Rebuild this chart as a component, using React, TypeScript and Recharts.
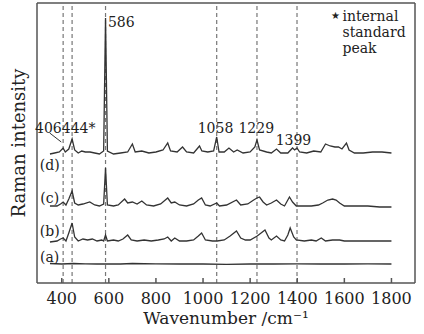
import React from "react";
import { LineChart, Line, XAxis, YAxis, ReferenceLine, ReferenceDot } from "recharts";

// wavenumbers (cm-1) and intensities (offset, arbitrary units) for each spectrum
const waveA = [350, 400, 450, 500, 550, 600, 650, 700, 800, 900, 1000, 1100, 1200, 1300, 1400, 1500, 1600, 1700, 1800];
const specA = [19.5, 19, 19.5, 19.2, 19, 19, 19, 19.5, 19.2, 19, 19, 18.6, 19, 19, 19.2, 19, 19, 19.2, 19];

const waveB = [350, 380, 395, 406, 418, 430, 444, 455, 470, 490, 510, 530, 550, 570, 578, 586, 594, 620, 640, 660, 680, 695, 720, 750, 780, 810, 835, 850, 865, 880, 900, 930, 960, 980, 994, 1010, 1040, 1060, 1090, 1115, 1142, 1160, 1180, 1200, 1230, 1263, 1280, 1290, 1312, 1330, 1346, 1360, 1370, 1385, 1396, 1430, 1460, 1480, 1502, 1520, 1550, 1580, 1600, 1650, 1700, 1750, 1800];
const specB = [41, 42, 44, 45, 42, 50, 60, 46, 42, 44, 43, 44, 42, 43, 42, 48, 42, 43, 42, 44, 48, 43, 42, 43, 42, 43, 44, 46, 42, 45, 42, 42, 43, 47, 50, 43, 42, 42, 43, 47, 52, 45, 43, 43, 47, 53, 45, 43, 47, 43, 42, 48, 55, 46, 43, 42, 43, 42, 45, 42, 43, 43, 42, 42, 42, 42, 42];

const waveC = [350, 380, 395, 406, 418, 430, 444, 455, 470, 490, 519, 540, 560, 578, 586, 594, 620, 640, 667, 680, 700, 720, 740, 760, 790, 820, 850, 865, 880, 900, 930, 960, 980, 994, 1010, 1030, 1058, 1070, 1100, 1142, 1160, 1190, 1215, 1229, 1240, 1255, 1270, 1290, 1312, 1330, 1346, 1367, 1380, 1396, 1430, 1460, 1490, 1508, 1530, 1550, 1565, 1580, 1600, 1650, 1700, 1750, 1800];
const specC = [77, 77, 79, 81, 78, 84, 92, 80, 78, 79, 81, 78, 77, 79, 115, 78, 77, 78, 84, 80, 81, 79, 82, 78, 77, 79, 85, 80, 81, 78, 77, 79, 83, 85, 78, 77, 80, 77, 78, 83, 78, 79, 83, 85, 86, 81, 78, 80, 83, 79, 77, 86, 81, 77, 77, 77, 78, 80, 83, 84, 83, 80, 77, 77, 77, 76, 76];

const waveD = [350, 370, 390, 406, 415, 430, 444, 455, 470, 485, 500, 520, 540, 560, 578, 586, 594, 620, 650, 680, 700, 712, 740, 770, 800, 830, 850, 862, 890, 913, 930, 960, 985, 995, 1020, 1045, 1058, 1068, 1090, 1110, 1130, 1145, 1170, 1200, 1220, 1229, 1240, 1270, 1290, 1312, 1330, 1360, 1380, 1389, 1399, 1410, 1440, 1470, 1500, 1520, 1540, 1560, 1575, 1590, 1609, 1620, 1643, 1680, 1720, 1760, 1800];
const specD = [129, 130, 131, 135, 131, 134, 144, 133, 130, 132, 131, 131, 130, 129, 132, 265, 132, 129, 130, 131, 139, 131, 132, 130, 131, 133, 140, 132, 131, 136, 131, 130, 137, 132, 131, 132, 146, 131, 131, 135, 131, 133, 130, 131, 136, 143, 133, 131, 130, 134, 130, 130, 135, 133, 135, 131, 130, 132, 131, 139, 137, 136, 136, 134, 140, 133, 130, 130, 131, 131, 130];

const markedPeaks = [406, 444, 586, 1058, 1229, 1399];
const xTicks = [400, 600, 800, 1000, 1200, 1400, 1600, 1800];

const toPoints = (w: number[], v: number[]) => w.map((x, i) => ({ w: x, v: v[i] }));

const series = [
  { id: "a", data: toPoints(waveA, specA) },
  { id: "b", data: toPoints(waveB, specB) },
  { id: "c", data: toPoints(waveC, specC) },
  { id: "d", data: toPoints(waveD, specD) },
];

// text annotations placed in data coordinates
const notes = [
  { x: 349, y: 118, text: "(d)", pos: "center" },
  { x: 349, y: 85, text: "(c)", pos: "center" },
  { x: 349, y: 52, text: "(b)", pos: "center" },
  { x: 349, y: 26, text: "(a)", pos: "center" },
  { x: 400, y: 155, text: "406", pos: "left" },
  { x: 400, y: 155, text: "444*", pos: "right" },
  { x: 653, y: 261, text: "586", pos: "center" },
  { x: 1053, y: 155, text: "1058", pos: "center" },
  { x: 1226, y: 155, text: "1229", pos: "center" },
  { x: 1384, y: 143, text: "1399", pos: "center" },
  { x: 1592, y: 267, text: "internal", pos: "right" },
  { x: 1592, y: 251, text: "standard", pos: "right" },
  { x: 1592, y: 235, text: "peak", pos: "right" },
];

const FONT = "DejaVu Serif";

export default function App() {
  return (
    <div style={{ position: "absolute", left: 0, top: 0, background: "#fff", fontFamily: FONT }}>
      <LineChart width={424} height={334} margin={{ top: 2, right: 8, left: 0, bottom: 0 }}>
        <XAxis
          dataKey="w"
          type="number"
          domain={[295, 1900]}
          ticks={xTicks}
          allowDataOverflow
          height={51}
          tickSize={-5}
          tickMargin={15}
          stroke="#555"
          strokeWidth={1.5}
          tick={{ fontFamily: FONT, fontSize: 16, fill: "#222" }}
          label={{ value: "Wavenumber /cm⁻¹", position: "insideBottom", offset: 10, fontFamily: FONT, fontSize: 17, fill: "#222" }}
        />
        <XAxis xAxisId="top" orientation="top" type="number" domain={[295, 1900]} height={1} tick={false} tickLine={false} stroke="#555" strokeWidth={1.5} />
        <YAxis
          type="number"
          domain={[0, 280]}
          width={37}
          tick={false}
          tickLine={false}
          stroke="#555"
          strokeWidth={1.5}
          label={{ value: "Raman intensity", angle: -90, position: "center", fontFamily: FONT, fontSize: 18, fill: "#222" }}
        />
        <YAxis yAxisId="right" orientation="right" type="number" domain={[0, 280]} width={1} tick={false} tickLine={false} stroke="#555" strokeWidth={1.5} />

        {markedPeaks.map((p) => (
          <ReferenceLine key={p} x={p} stroke="#777" strokeWidth={1.2} strokeDasharray="4 3" />
        ))}

        {series.map((s) => (
          <Line
            key={s.id}
            data={s.data}
            dataKey="v"
            type="linear"
            stroke="#333"
            strokeWidth={1.3}
            dot={false}
            isAnimationActive={false}
          />
        ))}

        <ReferenceLine segment={[{ x: 349, y: 150 }, { x: 398, y: 141 }]} stroke="#333" strokeWidth={1} />

        {notes.map((n, i) => (
          <ReferenceDot
            key={i}
            x={n.x}
            y={n.y}
            r={0}
            fill="none"
            stroke="none"
            label={{ value: n.text, position: n.pos as any, offset: 0, fontFamily: FONT, fontSize: 14, fill: "#222" }}
          />
        ))}
        <ReferenceDot
          x={1562}
          y={268}
          r={0}
          fill="none"
          stroke="none"
          label={{ value: "★", position: "center", fontFamily: FONT, fontSize: 10, fill: "#222" }}
        />
      </LineChart>
    </div>
  );
}
